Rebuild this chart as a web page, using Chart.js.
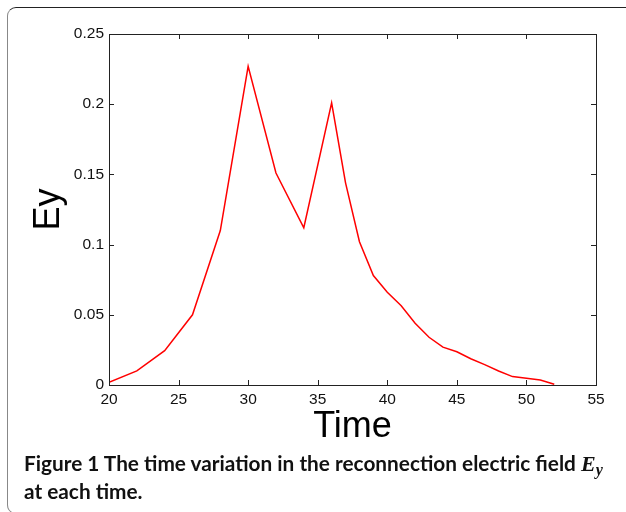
<!DOCTYPE html>
<html>
<head>
<meta charset="utf-8">
<script src="https://cdn.jsdelivr.net/npm/chart.js@4"></script>
<style>
  html, body { margin: 0; padding: 0; background: #fff; }
  #wrap { position: relative; width: 626px; height: 512px; overflow: hidden; }
  #frame {
    position: absolute; left: 7px; top: 7px; width: 700px; height: 505px;
    border: 1.5px solid #888; border-top-color: #222; border-radius: 9px;
  }
  #chart { position: absolute; left: 0; top: 0; }
  #caption {
    position: absolute; left: 24px; top: 449px; width: 600px;
    font-family: Lato, "Noto Sans", sans-serif; font-weight: 700; font-size: 20.8px;
    line-height: 27px; color: #111; white-space: nowrap;
  }
  #caption i { font-family: "Liberation Serif", "DejaVu Serif", serif; font-size: 22px; }
  #caption sub { font-size: 16px; vertical-align: -4px; line-height: 0; }
</style>
</head>
<body>
<div id="wrap">
  <div id="frame"></div>
  <canvas id="chart" width="626" height="512"></canvas>
  <div id="caption">Figure 1 The time variation in the reconnection electric field <i>E<sub>y</sub></i><br>at each time.</div>
</div>
<script>
// Datos
const times = [20, 22, 24, 26, 28, 30, 32, 34, 36, 37, 38, 39, 40, 41, 42, 43, 44, 45, 46, 47, 48, 49, 50, 51, 52];
const eyValues = [0.002, 0.010, 0.0245, 0.050, 0.110, 0.227, 0.151, 0.112, 0.201, 0.144, 0.102, 0.078, 0.066, 0.0565, 0.044, 0.034, 0.027, 0.0237, 0.0187, 0.0145, 0.010, 0.006, 0.0048, 0.0036, 0.0005];
const xTicks = [20, 25, 30, 35, 40, 45, 50, 55];
const yTicks = [0, 0.05, 0.1, 0.15, 0.2, 0.25];
const yTickLabels = ['0', '0.05', '0.1', '0.15', '0.2', '0.25'];

const axisFont = { family: 'Liberation Sans, Arial, sans-serif', size: 15.5 };
const titleFont = { family: 'Liberation Sans, Arial, sans-serif', size: 36 };

// Caja con ticks hacia adentro, como en MATLAB
const boxTicks = {
    id: 'boxTicks',
    afterDraw(chart) {
        const { ctx, chartArea: a, scales } = chart;
        const len = 5;
        ctx.save();
        ctx.strokeStyle = '#222';
        ctx.lineWidth = 1;
        ctx.beginPath();
        xTicks.forEach(v => {
            const px = Math.round(scales.x.getPixelForValue(v)) + 0.5;
            ctx.moveTo(px, a.bottom); ctx.lineTo(px, a.bottom - len);
            ctx.moveTo(px, a.top); ctx.lineTo(px, a.top + len);
        });
        yTicks.forEach(v => {
            const py = Math.round(scales.y.getPixelForValue(v)) + 0.5;
            ctx.moveTo(a.left, py); ctx.lineTo(a.left + len, py);
            ctx.moveTo(a.right, py); ctx.lineTo(a.right - len, py);
        });
        ctx.stroke();
        ctx.strokeRect(Math.round(a.left) + 0.5, Math.round(a.top) + 0.5,
            Math.round(a.right - a.left), Math.round(a.bottom - a.top));
        ctx.restore();
    }
};

new Chart(document.getElementById('chart'), {
    type: 'line',
    data: {
        datasets: [{
            data: times.map((t, i) => ({ x: t, y: eyValues[i] })),
            borderColor: '#ff0000',
            borderWidth: 1.5,
            pointRadius: 0,
            tension: 0,
            fill: false
        }]
    },
    options: {
        responsive: false,
        animation: false,
        events: [],
        layout: { padding: { left: 9, top: 34, right: 30, bottom: 63 } },
        plugins: { legend: { display: false }, tooltip: { enabled: false } },
        scales: {
            x: {
                type: 'linear', min: 20, max: 55,
                afterBuildTicks: s => { s.ticks = xTicks.map(v => ({ value: v })); },
                afterFit: s => { s.height = 64; },
                grid: { display: false, drawTicks: false },
                border: { display: false },
                ticks: { font: axisFont, color: '#111', padding: 5, maxRotation: 0 },
                title: { display: true, text: 'Time', font: titleFont, color: '#000', padding: 0 }
            },
            y: {
                type: 'linear', min: 0, max: 0.25,
                afterBuildTicks: s => { s.ticks = yTicks.map(v => ({ value: v })); },
                afterFit: s => { s.width = 100; },
                grid: { display: false, drawTicks: false },
                border: { display: false },
                ticks: {
                    font: axisFont, color: '#111', padding: 5,
                    callback: (v) => yTickLabels[yTicks.indexOf(v)]
                },
                title: { display: true, text: 'Ey', font: titleFont, color: '#000', padding: { top: 18 } }
            }
        }
    },
    plugins: [boxTicks]
});
</script>
</body>
</html>
